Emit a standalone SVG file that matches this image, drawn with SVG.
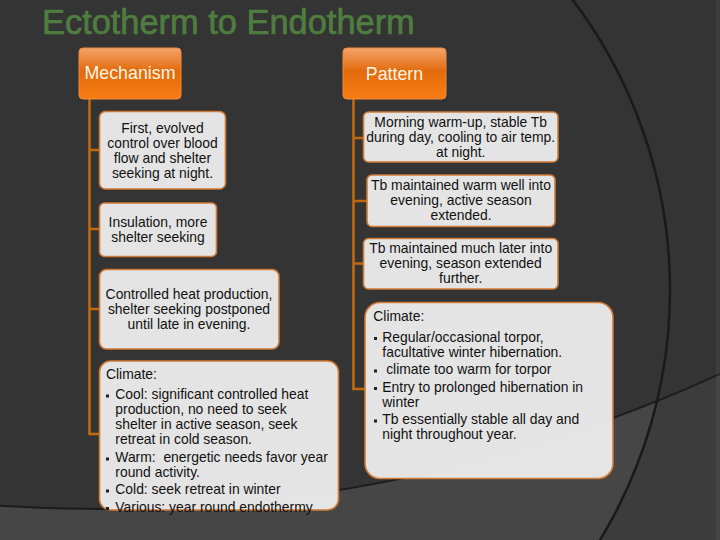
<svg xmlns="http://www.w3.org/2000/svg" width="720" height="540" viewBox="0 0 720 540">
<style>
text{font-family:"Liberation Sans",Arial,sans-serif;}
.title{font-size:34.4px;fill:#4f7d3f;stroke:#4f7d3f;stroke-width:0.7px;}
.hdr{font-size:17.8px;fill:#fff6e6;text-anchor:middle;}
.body{font-size:13.9px;fill:#111;text-anchor:middle;}
.left{font-size:13.9px;fill:#111;white-space:pre;}
.hbox{fill:url(#og);stroke:#f08a3a;stroke-width:1;}
.box{fill:#ebebeb;fill-opacity:0.96;stroke:#d07a35;stroke-width:1.6;}
.conn{stroke:#c0690f;stroke-width:2.6;fill:none;}
.bul{fill:#222;}
</style>
<defs>
<linearGradient id="og" x1="0" y1="0" x2="0" y2="1">
<stop offset="0" stop-color="#f4a46c"/>
<stop offset="0.45" stop-color="#e26b0c"/>
<stop offset="1" stop-color="#f97d14"/>
</linearGradient>
</defs>
<g id="background">
<rect x="0" y="0" width="720" height="540" fill="#3c3c3c"/>
<circle cx="189" cy="290" r="481" fill="#464646"/>
<circle cx="100" cy="-982" r="1491" fill="#343434"/>
<circle cx="100" cy="-982" r="1491" fill="none" stroke="#1c1c1c" stroke-width="2"/>
<circle cx="189" cy="290" r="481" fill="none" stroke="#1a1a1a" stroke-width="2.5"/>
<rect x="716" y="0" width="4" height="540" fill="#ffffff" fill-opacity="0.05"/>
</g>
<text class="title" x="42" y="34">Ectotherm to Endotherm</text>
<g id="connectors">
<path class="conn" d="M89.5,99 V435 M88.2,150 H99 M88.2,229 H99 M88.2,309 H99 M88.2,434 H99"/>
<path class="conn" d="M353.5,99 V390 M352.2,138 H363 M352.2,201 H367 M352.2,263.5 H363 M352.2,389 H365"/>
</g>
<g id="mechanism">
<rect class="hbox" x="79" y="48" width="102" height="51" rx="4"/>
<text class="hdr" x="130" y="79">Mechanism</text>
</g>
<g id="pattern">
<rect class="hbox" x="343" y="48" width="103" height="51" rx="4"/>
<text class="hdr" x="394.5" y="80">Pattern</text>
</g>
<g id="m1">
<rect class="box" x="99.5" y="111.5" width="126" height="77.5" rx="6"/>
<text class="body"><tspan x="162.5" y="132.7">First, evolved</tspan><tspan x="162.5" y="147.7">control over blood</tspan><tspan x="162.5" y="162.7">flow and shelter</tspan><tspan x="162.5" y="177.5">seeking at night.</tspan></text>
</g>
<g id="m2">
<rect class="box" x="99.5" y="203" width="117" height="53.5" rx="5"/>
<text class="body"><tspan x="158" y="226.7">Insulation, more</tspan><tspan x="158" y="241.7">shelter seeking</tspan></text>
</g>
<g id="m3">
<rect class="box" x="99.5" y="269.5" width="179.5" height="79.5" rx="7"/>
<text class="body"><tspan x="189" y="299">Controlled heat production,</tspan><tspan x="189" y="314">shelter seeking postponed</tspan><tspan x="189" y="329">until late in evening.</tspan></text>
</g>
<g id="m4">
<rect class="box" x="99.5" y="361" width="239" height="149" rx="11"/>
<text class="left" x="106" y="379">Climate:</text>
<rect class="bul" x="106" y="394.5" width="3" height="3"/>
<rect class="bul" x="106" y="457.5" width="3" height="3"/>
<rect class="bul" x="106" y="489.5" width="3" height="3"/>
<rect class="bul" x="106" y="507" width="3" height="3"/>
<text class="left"><tspan x="115.3" y="399.3">Cool: significant controlled heat</tspan><tspan x="115.3" y="414.3">production, no need to seek</tspan><tspan x="115.3" y="429.3">shelter in active season, seek</tspan><tspan x="115.3" y="444.3">retreat in cold season.</tspan><tspan x="115.3" y="462.3">Warm:  energetic needs favor year</tspan><tspan x="115.3" y="477.3">round activity.</tspan><tspan x="115.3" y="494.3">Cold: seek retreat in winter</tspan><tspan x="115.3" y="511.7">Various: year round endothermy</tspan></text>
</g>
<g id="p1">
<rect class="box" x="363.5" y="112" width="194.5" height="50" rx="5"/>
<text class="body"><tspan x="460.7" y="126.5">Morning warm-up, stable Tb</tspan><tspan x="460.7" y="141.5">during day, cooling to air temp.</tspan><tspan x="460.7" y="156.5">at night.</tspan></text>
</g>
<g id="p2">
<rect class="box" x="367" y="175" width="188" height="51.5" rx="5"/>
<text class="body"><tspan x="461" y="190">Tb maintained warm well into</tspan><tspan x="461" y="205">evening, active season</tspan><tspan x="461" y="220">extended.</tspan></text>
</g>
<g id="p3">
<rect class="box" x="363.5" y="238.5" width="194.5" height="50.5" rx="5"/>
<text class="body"><tspan x="460.7" y="252.5">Tb maintained much later into</tspan><tspan x="460.7" y="267.5">evening, season extended</tspan><tspan x="460.7" y="282.5">further.</tspan></text>
</g>
<g id="p4">
<rect class="box" x="365" y="302.5" width="248" height="176" rx="15"/>
<text class="left" x="373.3" y="320.7">Climate:</text>
<rect class="bul" x="374" y="337" width="3" height="3"/>
<rect class="bul" x="374" y="369.5" width="3" height="3"/>
<rect class="bul" x="374" y="387" width="3" height="3"/>
<rect class="bul" x="374" y="419.5" width="3" height="3"/>
<text class="left"><tspan x="382.3" y="341.7">Regular/occasional torpor,</tspan><tspan x="382.3" y="356.7">facultative winter hibernation.</tspan><tspan x="382.3" y="374.3"> climate too warm for torpor</tspan><tspan x="382.3" y="391.7">Entry to prolonged hibernation in</tspan><tspan x="382.3" y="406.7">winter</tspan><tspan x="382.3" y="424.3">Tb essentially stable all day and</tspan><tspan x="382.3" y="439">night throughout year.</tspan></text>
</g>
</svg>
